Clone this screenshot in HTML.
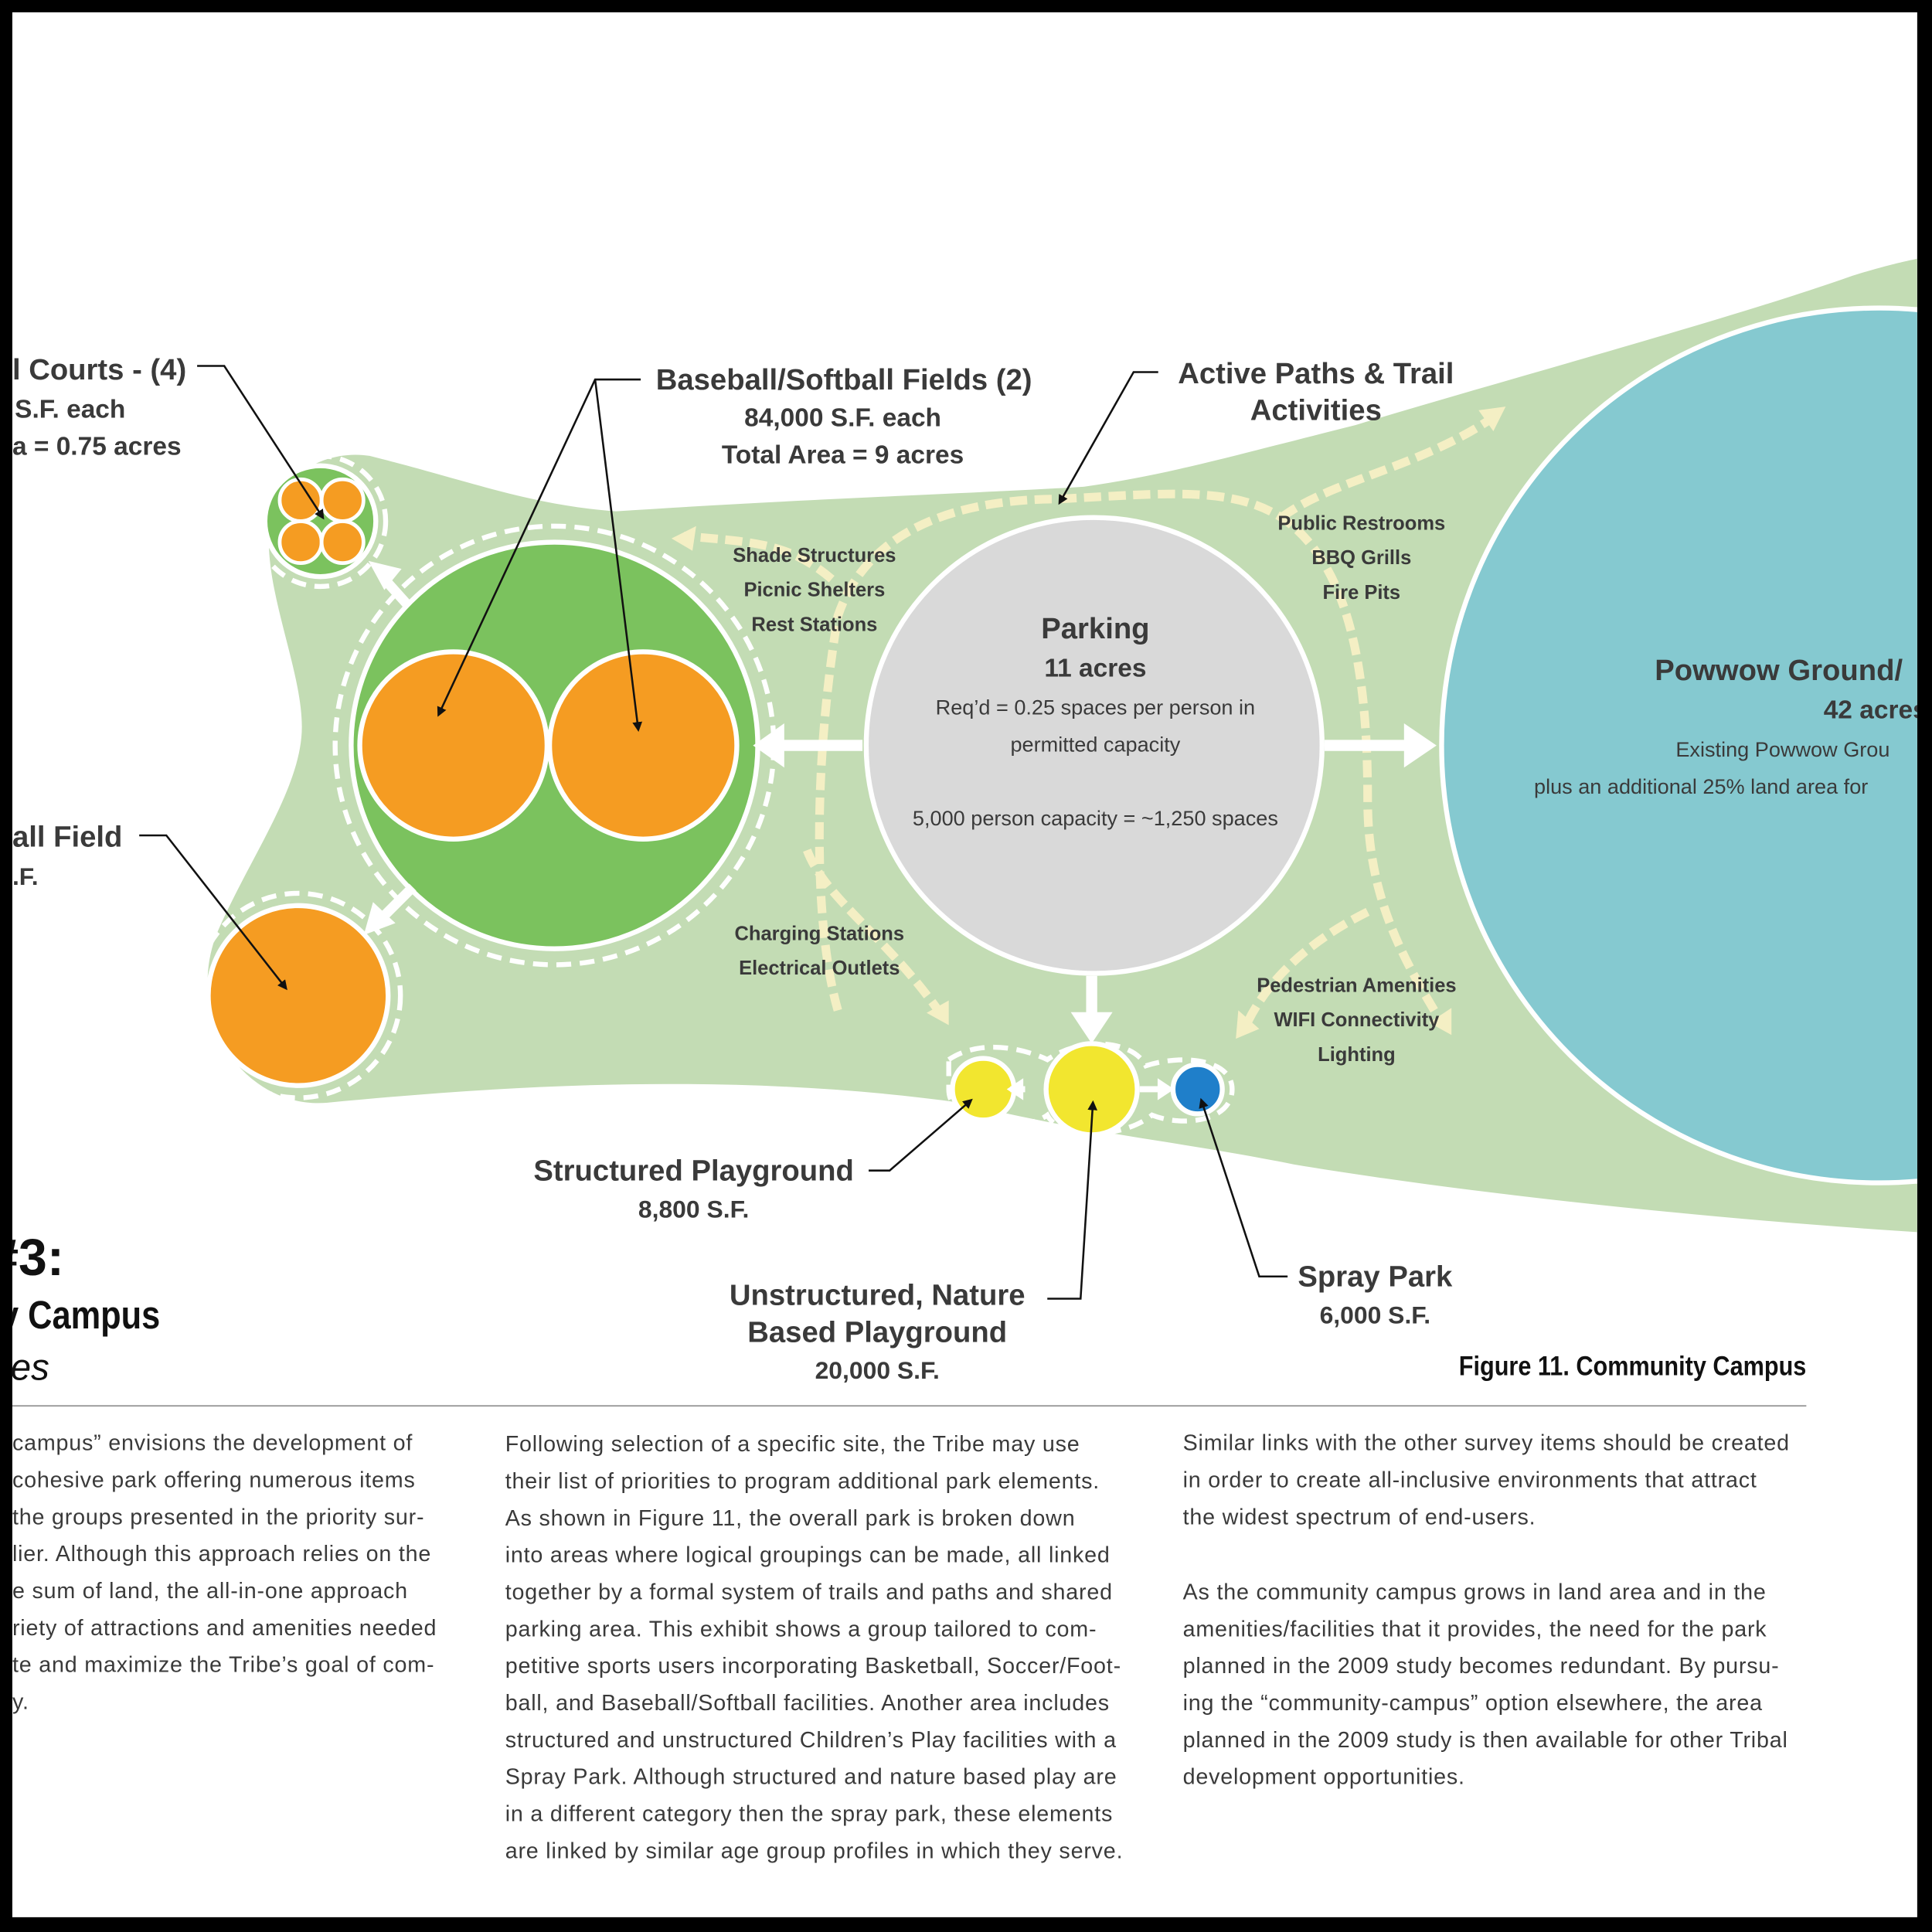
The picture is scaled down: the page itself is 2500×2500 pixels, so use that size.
<!DOCTYPE html>
<html><head><meta charset="utf-8"><style>
html,body{margin:0;padding:0;background:#fff;}
svg{display:block;}
text{font-family:"Liberation Sans",sans-serif;fill:#3a3a3a;}
.b{font-weight:bold;}
</style></head><body>
<svg width="2500" height="2500" viewBox="0 0 1568 1568" xmlns="http://www.w3.org/2000/svg">
<rect x="0" y="0" width="1568" height="1568" fill="#000"/>
<rect x="10" y="10" width="1546" height="1546" fill="#fff"/>
<defs>
<marker id="ah" markerWidth="8" markerHeight="8" refX="6" refY="4" orient="auto" markerUnits="userSpaceOnUse"><path d="M0,0 L8,4 L0,8 z" fill="#111"/></marker>
<clipPath id="cp"><rect x="10" y="10" width="1546" height="1546"/></clipPath>
</defs>
<g clip-path="url(#cp)">
<path d="M300,370 C380,390 430,410 500,415 C650,405 800,400 880,395 C950,385 1000,370 1100,345 C1250,300 1400,260 1500,225 C1530,215 1556,210 1556,210 L1556,1000 C1400,990 1200,970 1050,945 C950,925 880,920 780,895 C600,870 420,880 265,895 C200,900 150,830 175,760 C200,700 245,640 245,590 C245,540 210,470 220,420 C230,380 270,365 300,370 Z" fill="#c3dcb4"/>
<circle cx="1525" cy="605" r="355" fill="#85c9d0" stroke="#fff" stroke-width="4"/>
<g fill="none" stroke="#fff" stroke-width="4" stroke-dasharray="12,7">
<circle cx="450" cy="605" r="178"/>
<circle cx="260" cy="423" r="53"/>
<circle cx="242" cy="808" r="83"/>
<path d="M770,860 C800,840 840,855 850,860 C880,840 920,845 930,865 C960,855 1000,860 1000,884 C1000,910 960,915 935,905 C910,925 860,925 850,905 C830,920 770,915 770,884 Z"/>
</g>
<g fill="none" stroke="#f4efc4" stroke-width="7" stroke-dasharray="14,6">
<path d="M680,820 C660,750 660,620 680,500 C700,440 760,405 860,405 C950,400 1000,395 1040,420 C1100,460 1110,560 1110,650 C1110,730 1140,780 1170,830"/>
<path d="M1040,420 C1080,390 1150,380 1210,340"/>
<path d="M675,470 C640,440 610,440 555,435"/>
<path d="M655,690 C670,730 720,760 765,825"/>
<path d="M1110,740 C1070,760 1030,790 1010,835"/>
</g>
<g fill="#f4efc4">
<path d="M545,437 L565,427 L562,447 Z"/>
<path d="M1222,330 L1200,333 L1212,350 Z"/>
<path d="M770,832 L752,822 L770,812 Z"/>
<path d="M1003,843 L1005,820 L1022,835 Z"/>
<path d="M1178,840 L1160,830 L1178,818 Z"/>
</g>
<circle cx="450" cy="605" r="165" fill="#7bc25e" stroke="#fff" stroke-width="4"/>
<circle cx="368" cy="605" r="76" fill="#f59c22" stroke="#fff" stroke-width="4"/>
<circle cx="522" cy="605" r="76" fill="#f59c22" stroke="#fff" stroke-width="4"/>
<circle cx="260" cy="423" r="45" fill="#7bc25e" stroke="#fff" stroke-width="4"/>
<circle cx="244" cy="406" r="17" fill="#f59c22" stroke="#fff" stroke-width="3"/>
<circle cx="278" cy="406" r="17" fill="#f59c22" stroke="#fff" stroke-width="3"/>
<circle cx="244" cy="440" r="17" fill="#f59c22" stroke="#fff" stroke-width="3"/>
<circle cx="278" cy="440" r="17" fill="#f59c22" stroke="#fff" stroke-width="3"/>
<circle cx="242" cy="808" r="73" fill="#f59c22" stroke="#fff" stroke-width="4"/>
<circle cx="888" cy="605" r="185" fill="#d9d9d9" stroke="#fff" stroke-width="4"/>
<circle cx="798" cy="884" r="25" fill="#f2e62f" stroke="#fff" stroke-width="4"/>
<circle cx="886" cy="884" r="37" fill="#f2e62f" stroke="#fff" stroke-width="4"/>
<circle cx="972" cy="884" r="20" fill="#1f7fca" stroke="#fff" stroke-width="4"/>
<g fill="#fff" stroke="#fff">
<line x1="700" y1="605" x2="630" y2="605" stroke-width="9"/><path d="M612,605 L636,588 L636,622 Z"/>
<line x1="1075" y1="605" x2="1145" y2="605" stroke-width="9"/><path d="M1165,605 L1140,588 L1140,622 Z"/>
<line x1="886" y1="792" x2="886" y2="830" stroke-width="9"/><path d="M886,846 L870,822 L902,822 Z"/>
<line x1="832" y1="884" x2="820" y2="884" stroke-width="5"/><path d="M818,884 L830,876 L830,892 Z"/>
<line x1="925" y1="884" x2="945" y2="884" stroke-width="5"/><path d="M952,884 L940,876 L940,892 Z"/>
<line x1="330" y1="490" x2="312" y2="470" stroke-width="8"/><path d="M300,456 L325,462 L312,478 Z"/>
<line x1="335" y1="720" x2="310" y2="745" stroke-width="8"/><path d="M296,758 L303,733 L320,749 Z"/>
</g>
<g stroke="#111" stroke-width="1.6" fill="none">
<polyline points="520,308 483,308 356,580" marker-end="url(#ah)"/>
<polyline points="483,308 518,592" marker-end="url(#ah)"/>
<polyline points="160,297 182,297 262,420" marker-end="url(#ah)"/>
<polyline points="113,678 135,678 232,802" marker-end="url(#ah)"/>
<polyline points="940,302 920,302 860,408" marker-end="url(#ah)"/>
<polyline points="705,950 722,950 788,893" marker-end="url(#ah)"/>
<polyline points="850,1054 877,1054 887,895" marker-end="url(#ah)"/>
<polyline points="1045,1036 1022,1036 975,893" marker-end="url(#ah)"/>
</g>
<g text-anchor="middle">
<text x="685" y="316" font-size="24" class="b">Baseball/Softball Fields (2)</text>
<text x="684" y="346" font-size="21" class="b">84,000 S.F. each</text>
<text x="684" y="376" font-size="21" class="b">Total Area = 9 acres</text>
<text x="1068" y="311" font-size="24" class="b">Active Paths &amp; Trail</text>
<text x="1068" y="341" font-size="24" class="b">Activities</text>
<text x="661" y="456" font-size="16" class="b">Shade Structures</text>
<text x="661" y="484" font-size="16" class="b">Picnic Shelters</text>
<text x="661" y="512" font-size="16" class="b">Rest Stations</text>
<text x="1105" y="430" font-size="16" class="b">Public Restrooms</text>
<text x="1105" y="458" font-size="16" class="b">BBQ Grills</text>
<text x="1105" y="486" font-size="16" class="b">Fire Pits</text>
<text x="665" y="763" font-size="16" class="b">Charging Stations</text>
<text x="665" y="791" font-size="16" class="b">Electrical Outlets</text>
<text x="1101" y="805" font-size="16" class="b">Pedestrian Amenities</text>
<text x="1101" y="833" font-size="16" class="b">WIFI Connectivity</text>
<text x="1101" y="861" font-size="16" class="b">Lighting</text>
<text x="889" y="518" font-size="24" class="b">Parking</text>
<text x="889" y="549" font-size="21" class="b">11 acres</text>
<text x="563" y="958" font-size="24" class="b">Structured Playground</text>
<text x="563" y="988" font-size="20" class="b">8,800 S.F.</text>
<text x="712" y="1059" font-size="24" class="b">Unstructured, Nature</text>
<text x="712" y="1089" font-size="24" class="b">Based Playground</text>
<text x="712" y="1119" font-size="20" class="b">20,000 S.F.</text>
<text x="1116" y="1044" font-size="24" class="b">Spray Park</text>
<text x="1116" y="1074" font-size="20" class="b">6,000 S.F.</text>
</g>
<g text-anchor="middle" font-size="17">
<text x="889" y="580">Req’d = 0.25 spaces per person in</text>
<text x="889" y="610">permitted capacity</text>
<text x="889" y="670">5,000 person capacity = ~1,250 spaces</text>
</g>
<text x="1343" y="552" font-size="24" class="b">Powwow Ground/</text>
<text x="1480" y="583" font-size="21" class="b">42 acres</text>
<text x="1360" y="614" font-size="17">Existing Powwow Grou</text>
<text x="1245" y="644" font-size="17">plus an additional 25% land area for</text>
<text x="10" y="308" font-size="24" class="b">l Courts - (4)</text>
<text x="12" y="339" font-size="21" class="b">S.F. each</text>
<text x="10" y="369" font-size="21" class="b">a = 0.75 acres</text>
<text x="10" y="687" font-size="24" class="b">all Field</text>
<text x="10" y="718" font-size="20" class="b">.F.</text>
<text x="-8" y="1035" font-size="42" class="b" style="fill:#111" textLength="60" lengthAdjust="spacingAndGlyphs">#3:</text>
<text x="0" y="1078" font-size="32" class="b" style="fill:#111" textLength="130" lengthAdjust="spacingAndGlyphs">y Campus</text>
<text x="2" y="1120" font-size="30" font-style="italic" style="fill:#111" textLength="38" lengthAdjust="spacingAndGlyphs">ies</text>
<text x="1466" y="1116" font-size="22" class="b" text-anchor="end" style="fill:#111" textLength="282" lengthAdjust="spacingAndGlyphs">Figure 11. Community Campus</text>
<line x1="10" y1="1141" x2="1466" y2="1141" stroke="#999" stroke-width="1.2"/>
<g font-size="18" letter-spacing="0.5">
<text x="10" y="1177">campus” envisions the development of</text>
<text x="10" y="1207">cohesive park offering numerous items</text>
<text x="10" y="1237">the groups presented in the priority sur-</text>
<text x="10" y="1267">lier.  Although this approach relies on the</text>
<text x="10" y="1297">e sum of land, the all-in-one approach</text>
<text x="10" y="1327">riety of attractions and amenities needed</text>
<text x="10" y="1357">te and maximize the Tribe’s goal of com-</text>
<text x="10" y="1387">y.</text>
<text x="410" y="1178">Following selection of a specific site, the Tribe may use</text>
<text x="410" y="1208">their list of priorities to program additional park elements.</text>
<text x="410" y="1238">As shown in Figure 11, the overall park is broken down</text>
<text x="410" y="1268">into areas where logical groupings can be made, all linked</text>
<text x="410" y="1298">together by a formal system of trails and paths and shared</text>
<text x="410" y="1328">parking area.  This exhibit shows a group tailored to com-</text>
<text x="410" y="1358">petitive sports users incorporating Basketball, Soccer/Foot-</text>
<text x="410" y="1388">ball, and Baseball/Softball facilities.  Another area includes</text>
<text x="410" y="1418">structured and unstructured Children’s Play facilities with a</text>
<text x="410" y="1448">Spray Park.  Although structured and nature based play are</text>
<text x="410" y="1478">in a different category then the spray park, these elements</text>
<text x="410" y="1508">are linked by similar age group profiles in which they serve.</text>
<text x="960" y="1177">Similar links with the other survey items should be created</text>
<text x="960" y="1207">in order to create all-inclusive environments that attract</text>
<text x="960" y="1237">the widest spectrum of end-users.</text>
<text x="960" y="1298">As the community campus grows in land area and in the</text>
<text x="960" y="1328">amenities/facilities that it provides, the need for the park</text>
<text x="960" y="1358">planned in the 2009 study becomes redundant.  By pursu-</text>
<text x="960" y="1388">ing the “community-campus” option elsewhere, the area</text>
<text x="960" y="1418">planned in the 2009 study is then available for other Tribal</text>
<text x="960" y="1448">development opportunities.</text>
</g>
</g>
</svg>
</body></html>
